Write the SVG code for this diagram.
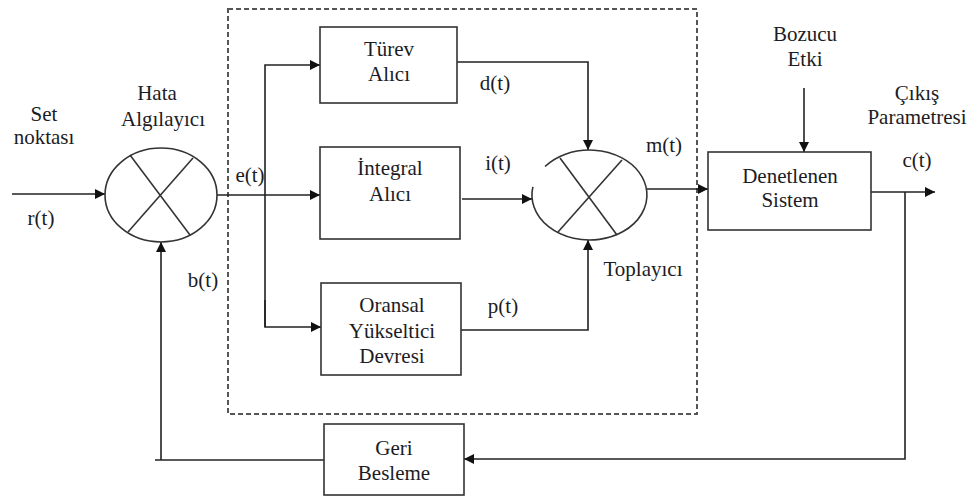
<svg xmlns="http://www.w3.org/2000/svg" width="979" height="498" viewBox="0 0 979 498">
<defs>
<marker id="ah" viewBox="0 0 10 10" refX="10" refY="5" markerWidth="10" markerHeight="10" markerUnits="userSpaceOnUse" orient="auto">
<path d="M0,0 L10,5 L0,10 z" fill="#111"/>
</marker>
</defs>
<style>
text{font-family:'Liberation Serif',Tinos,'Noto Serif','DejaVu Serif',FreeSerif,Times,'Times New Roman',serif;font-size:21px;fill:#1c1c24;text-anchor:middle}
.box{fill:#fff;stroke:#333;stroke-width:1.6}
.sym{fill:none;stroke:#333;stroke-width:1.6}
.w{fill:none;stroke:#222;stroke-width:1.6}
.wa{fill:none;stroke:#222;stroke-width:1.6;marker-end:url(#ah)}
.dash{fill:none;stroke:#555;stroke-width:2;stroke-dasharray:5 3}
</style>
<rect width="979" height="498" fill="#fff"/>
<rect class="dash" x="228" y="9" width="469" height="405"/>
<g id="connectors">
<line class="wa" x1="12" y1="194" x2="105" y2="194"/>
<line class="wa" x1="217" y1="195" x2="320" y2="195"/>
<polyline class="wa" points="265,327 265,65 320,65"/>
<polyline class="wa" points="265,300 265,327 321,327"/>
<polyline class="wa" points="457,62 588,62 588,150"/>
<line class="wa" x1="462" y1="199" x2="532" y2="199"/>
<polyline class="wa" points="461,330 588,330 588,240"/>
<line class="wa" x1="647" y1="189" x2="708" y2="189"/>
<line class="wa" x1="804" y1="88" x2="804" y2="152"/>
<line class="wa" x1="871" y1="192" x2="935" y2="192"/>
<polyline class="wa" points="905,192 905,459 464,459"/>
<polyline class="w" points="324,460 155,460"/>
<line class="wa" x1="161" y1="460" x2="161" y2="242"/>
</g>
<g id="hata">
<ellipse class="sym" cx="161" cy="195" rx="56" ry="47"/>
<line class="sym" x1="130" y1="155" x2="190" y2="235"/>
<line class="sym" x1="193" y1="158" x2="128" y2="232"/>
<text x="157" y="100">Hata</text>
<text x="163" y="126">Algılayıcı</text>
</g>
<g id="turev">
<rect class="box" x="320" y="27" width="137" height="76"/>
<text x="389" y="56">Türev</text>
<text x="389" y="81">Alıcı</text>
</g>
<g id="integral">
<rect class="box" x="320" y="147" width="140" height="92"/>
<text x="390" y="175">İntegral</text>
<text x="390" y="201">Alıcı</text>
</g>
<g id="oransal">
<rect class="box" x="321" y="283" width="140" height="92"/>
<text x="392" y="312">Oransal</text>
<text x="392" y="338">Yükseltici</text>
<text x="392" y="363">Devresi</text>
</g>
<g id="toplayici">
<path class="sym" d="M545,166.5 A57.5,45 0 1 1 532.9,186.9"/>
<line class="sym" x1="560" y1="158" x2="617" y2="235"/>
<line class="sym" x1="622" y1="160" x2="558" y2="232"/>
<text x="643" y="276">Toplayıcı</text>
</g>
<g id="denetlenen">
<rect class="box" x="708" y="152" width="163" height="78"/>
<text x="790" y="183">Denetlenen</text>
<text x="790" y="207">Sistem</text>
</g>
<g id="geri">
<rect class="box" x="324" y="424" width="140" height="71"/>
<text x="394" y="455">Geri</text>
<text x="394" y="480">Besleme</text>
</g>
<g id="labels">
<text x="44" y="121">Set</text>
<text x="44" y="144">noktası</text>
<text x="41" y="225">r(t)</text>
<text x="250" y="182">e(t)</text>
<text x="203" y="287">b(t)</text>
<text x="495" y="90">d(t)</text>
<text x="498" y="170">i(t)</text>
<text x="503" y="313">p(t)</text>
<text x="664" y="152">m(t)</text>
<text x="805" y="41">Bozucu</text>
<text x="805" y="66">Etki</text>
<text x="917" y="100">Çıkış</text>
<text x="917" y="124">Parametresi</text>
<text x="917" y="167">c(t)</text>
</g>
</svg>
